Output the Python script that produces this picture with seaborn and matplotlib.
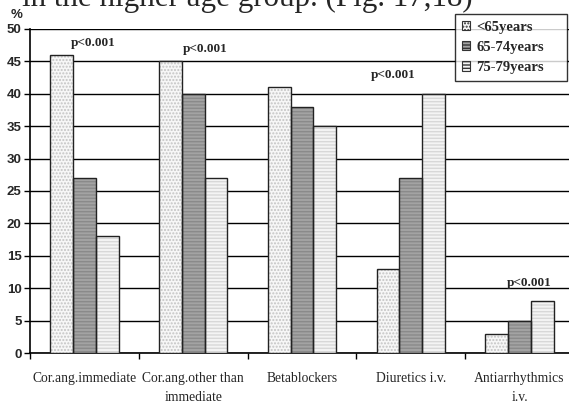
import pandas as pd
import matplotlib.pyplot as plt
import seaborn as sns
from matplotlib.patches import Rectangle

# data
categories = ['Cor.ang.immediate', 'Cor.ang.other than\nimmediate', 'Betablockers',
              'Diuretics i.v.', 'Antiarrhythmics\ni.v.']
age_groups = ['<65years', '65-74years', '75-79years']
under65 = [46, 45, 41, 13, 3]
age65_74 = [27, 40, 38, 27, 5]
age75_79 = [18, 27, 35, 40, 8]
pval_text = ['p<0.001', 'p<0.001', None, 'p<0.001', 'p<0.001']
pval_y = [47.8, 46.9, None, 42.9, 10.8]
pval_dx = [0.08, 0.11, None, -0.16, 0.09]  # offset from group centre, in categories

df = pd.DataFrame({
    'category': categories * 3,
    'group': [g for g in age_groups for _ in categories],
    'value': under65 + age65_74 + age75_79,
})

sns.set_style('white')
plt.rcParams['font.family'] = ['Liberation Serif', 'DejaVu Serif']

fig = plt.figure(figsize=(5.69, 4.05), dpi=100)
ax = fig.add_axes([30 / 569, 52 / 405, 544 / 569, 324 / 405])

sns.barplot(data=df, x='category', y='value', hue='group', hue_order=age_groups,
            order=categories, ax=ax, width=0.63, legend=False, zorder=3)

styles = [
    dict(face='#f7f7f7', hatch='.....', hc='#c4c4c4'),
    dict(face='#a3a3a3', hatch='-----', hc='#8a8a8a'),
    dict(face='#f4f4f4', hatch='-----', hc='#d8d8d8'),
]
for cont, st in zip(ax.containers, styles):
    for p in cont.patches:
        p.set_facecolor(st['face'])
        p.set_hatch(st['hatch'])
        p.set_edgecolor(st['hc'])
        p.set_linewidth(0)
        ax.add_patch(Rectangle((p.get_x(), p.get_y()), p.get_width(), p.get_height(),
                               fill=False, edgecolor='#222222', linewidth=1.0, zorder=4))

ax.set_ylim(0, 50)
ax.set_xlim(-0.5, 4.5)
ax.set_yticks(range(0, 51, 5))
ax.yaxis.grid(True, color='black', linewidth=1.0, zorder=0)
ax.set_axisbelow(True)
ax.set_xlabel('')
ax.set_ylabel('')
for s in ['top', 'right']:
    ax.spines[s].set_visible(False)
for s in ['left', 'bottom']:
    ax.spines[s].set_color('black')
    ax.spines[s].set_linewidth(1.2)

ax.set_xticks([i + 0.5 for i in range(-1, 4)], minor=True)
ax.tick_params(axis='x', which='minor', length=4, color='black', width=1, bottom=True)
ax.tick_params(axis='x', which='major', length=0, pad=14)
ax.tick_params(axis='y', length=4, color='black', width=1, left=True, pad=2)
for lab in ax.get_yticklabels():
    lab.set_fontfamily('Liberation Sans')
    lab.set_fontweight('bold')
    lab.set_fontsize(9.5)
for lab in ax.get_xticklabels():
    lab.set_fontsize(9.8)
    lab.set_linespacing(1.6)

for i, txt in enumerate(pval_text):
    if txt is None:
        continue
    ax.text(i + pval_dx[i], pval_y[i], txt, ha='center', va='center',
            fontsize=9.5, fontweight='bold')

fig.text(17 / 569, 1 - 15 / 405, '%', fontfamily='Liberation Sans', fontweight='bold',
         fontsize=9.5, ha='center', va='center')
# heading of the page above, mostly cut off at the top edge as in the reference
fig.text(22 / 569, 1 - 6 / 405, 'in the higher age group. (Fig. 17,18)',
         fontsize=22.3, ha='left', va='baseline')

handles = [Rectangle((0, 0), 1, 1, facecolor=st['face'], hatch=st['hatch'],
                     edgecolor='#333333', linewidth=0.8) for st in styles]
leg = fig.legend(handles, age_groups, loc='upper left',
                 bbox_to_anchor=(455 / 569, 1 - 14 / 405, 112 / 569, 0),
                 mode='expand',
                 prop={'family': 'Liberation Serif', 'weight': 'bold', 'size': 10.5},
                 frameon=True, fancybox=False, handlelength=0.6, handleheight=0.6,
                 handletextpad=0.4, labelspacing=0.5, borderpad=0.45, borderaxespad=0)
leg.get_frame().set_edgecolor('black')
leg.get_frame().set_linewidth(1.0)

fig.savefig('out.png', dpi=100)
